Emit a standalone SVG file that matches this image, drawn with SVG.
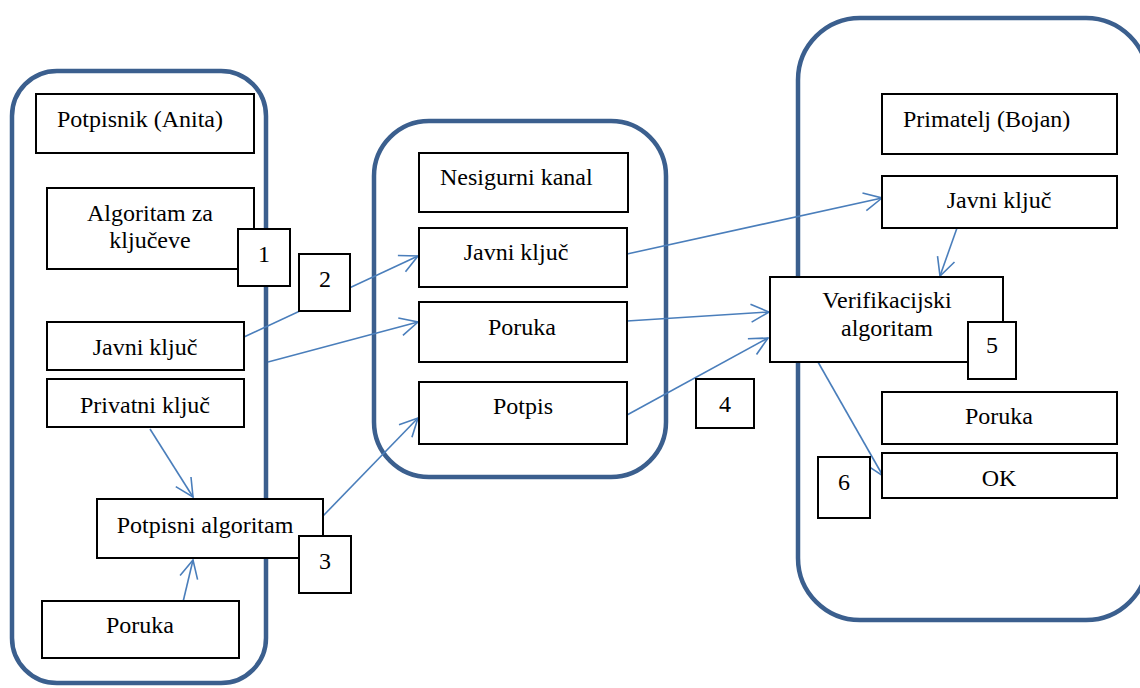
<svg xmlns="http://www.w3.org/2000/svg" width="1140" height="688" viewBox="0 0 1140 688">
<style>
.cont{fill:none;stroke:#3B5F8E;stroke-width:4.5}
.box{fill:#fff;stroke:#000;stroke-width:2}
.c{fill:none;stroke:#4A7EBB;stroke-width:1.6}
text{font-family:'Liberation Serif','Times New Roman',serif;font-size:24px;fill:#000;text-anchor:middle}
text.ts{text-anchor:start}
</style>
<defs>
<marker id="ah" markerUnits="userSpaceOnUse" markerWidth="22" markerHeight="22" viewBox="0 0 22 22" refX="19" refY="11" orient="auto">
<path d="M1,2 L19,11 L1,20" fill="none" stroke="#4A7EBB" stroke-width="1.6"/>
</marker>
</defs>
<rect width="1140" height="688" fill="#fff"/>
<g id="sender-group"><rect class="cont" x="12" y="71" width="254" height="612" rx="45" ry="45"/></g>
<g id="channel-group"><rect class="cont" x="374" y="121" width="292" height="356" rx="55" ry="55"/></g>
<g id="receiver-group"><rect class="cont" x="798" y="18" width="350" height="602" rx="62" ry="62"/></g>
<g id="connectors">
<line class="c" x1="244" y1="337" x2="418" y2="256" marker-end="url(#ah)"/>
<line class="c" x1="268" y1="362" x2="418" y2="322" marker-end="url(#ah)"/>
<line class="c" x1="323" y1="516" x2="418" y2="418" marker-end="url(#ah)"/>
<line class="c" x1="150" y1="429" x2="193" y2="497" marker-end="url(#ah)"/>
<line class="c" x1="183" y1="602" x2="193" y2="560" marker-end="url(#ah)"/>
<line class="c" x1="627" y1="254" x2="882" y2="198" marker-end="url(#ah)"/>
<line class="c" x1="627" y1="321" x2="769" y2="312" marker-end="url(#ah)"/>
<line class="c" x1="627" y1="415" x2="768" y2="338" marker-end="url(#ah)"/>
<line class="c" x1="957" y1="228" x2="940" y2="276" marker-end="url(#ah)"/>
<line class="c" x1="818" y1="362" x2="883" y2="476" marker-end="url(#ah)"/>
</g>
<g id="potpisnik"><rect class="box" x="36" y="94" width="218" height="59"/><text class="ts" x="57" y="127">Potpisnik (Anita)</text></g>
<g id="algoritam-kljucevi"><rect class="box" x="47" y="188" width="207" height="81"/><text x="150" y="221">Algoritam za</text><text x="150" y="248">ključeve</text></g>
<g id="step1"><rect class="box" x="238" y="229" width="52" height="57"/><text x="264" y="262">1</text></g>
<g id="step2"><rect class="box" x="299" y="254" width="51" height="57"/><text x="325" y="287">2</text></g>
<g id="javni-kljuc-a"><rect class="box" x="47" y="322" width="197" height="48"/><text x="145" y="355">Javni ključ</text></g>
<g id="privatni-kljuc"><rect class="box" x="47" y="379" width="197" height="48"/><text x="145" y="413">Privatni ključ</text></g>
<g id="potpisni-algoritam"><rect class="box" x="97" y="499" width="226" height="59"/><text x="205" y="533">Potpisni algoritam</text></g>
<g id="step3"><rect class="box" x="299" y="536" width="52" height="57"/><text x="325" y="569">3</text></g>
<g id="poruka-a"><rect class="box" x="42" y="601" width="197" height="57"/><text x="140" y="633">Poruka</text></g>
<g id="nesigurni-kanal"><rect class="box" x="419" y="153" width="209" height="59"/><text class="ts" x="440" y="185">Nesigurni kanal</text></g>
<g id="javni-kljuc-k"><rect class="box" x="419" y="228" width="208" height="59"/><text x="516" y="260">Javni ključ</text></g>
<g id="poruka-k"><rect class="box" x="419" y="302" width="208" height="60"/><text x="522" y="335">Poruka</text></g>
<g id="potpis-k"><rect class="box" x="419" y="382" width="208" height="62"/><text x="523" y="414">Potpis</text></g>
<g id="step4"><rect class="box" x="696" y="379" width="58" height="49"/><text x="725" y="412">4</text></g>
<g id="primatelj"><rect class="box" x="882" y="94" width="235" height="60"/><text class="ts" x="903" y="127">Primatelj (Bojan)</text></g>
<g id="javni-kljuc-b"><rect class="box" x="882" y="176" width="235" height="52"/><text x="999" y="208">Javni ključ</text></g>
<g id="verifikacijski"><rect class="box" x="770" y="277" width="233" height="85"/><text x="887" y="308">Verifikacijski</text><text x="887" y="336">algoritam</text></g>
<g id="step5"><rect class="box" x="968" y="322" width="48" height="57"/><text x="992" y="353">5</text></g>
<g id="poruka-b"><rect class="box" x="882" y="392" width="235" height="52"/><text x="999" y="424">Poruka</text></g>
<g id="ok"><rect class="box" x="882" y="453" width="235" height="45"/><text x="999" y="486">OK</text></g>
<g id="step6"><rect class="box" x="818" y="457" width="52" height="61"/><text x="844" y="490">6</text></g>
</svg>
